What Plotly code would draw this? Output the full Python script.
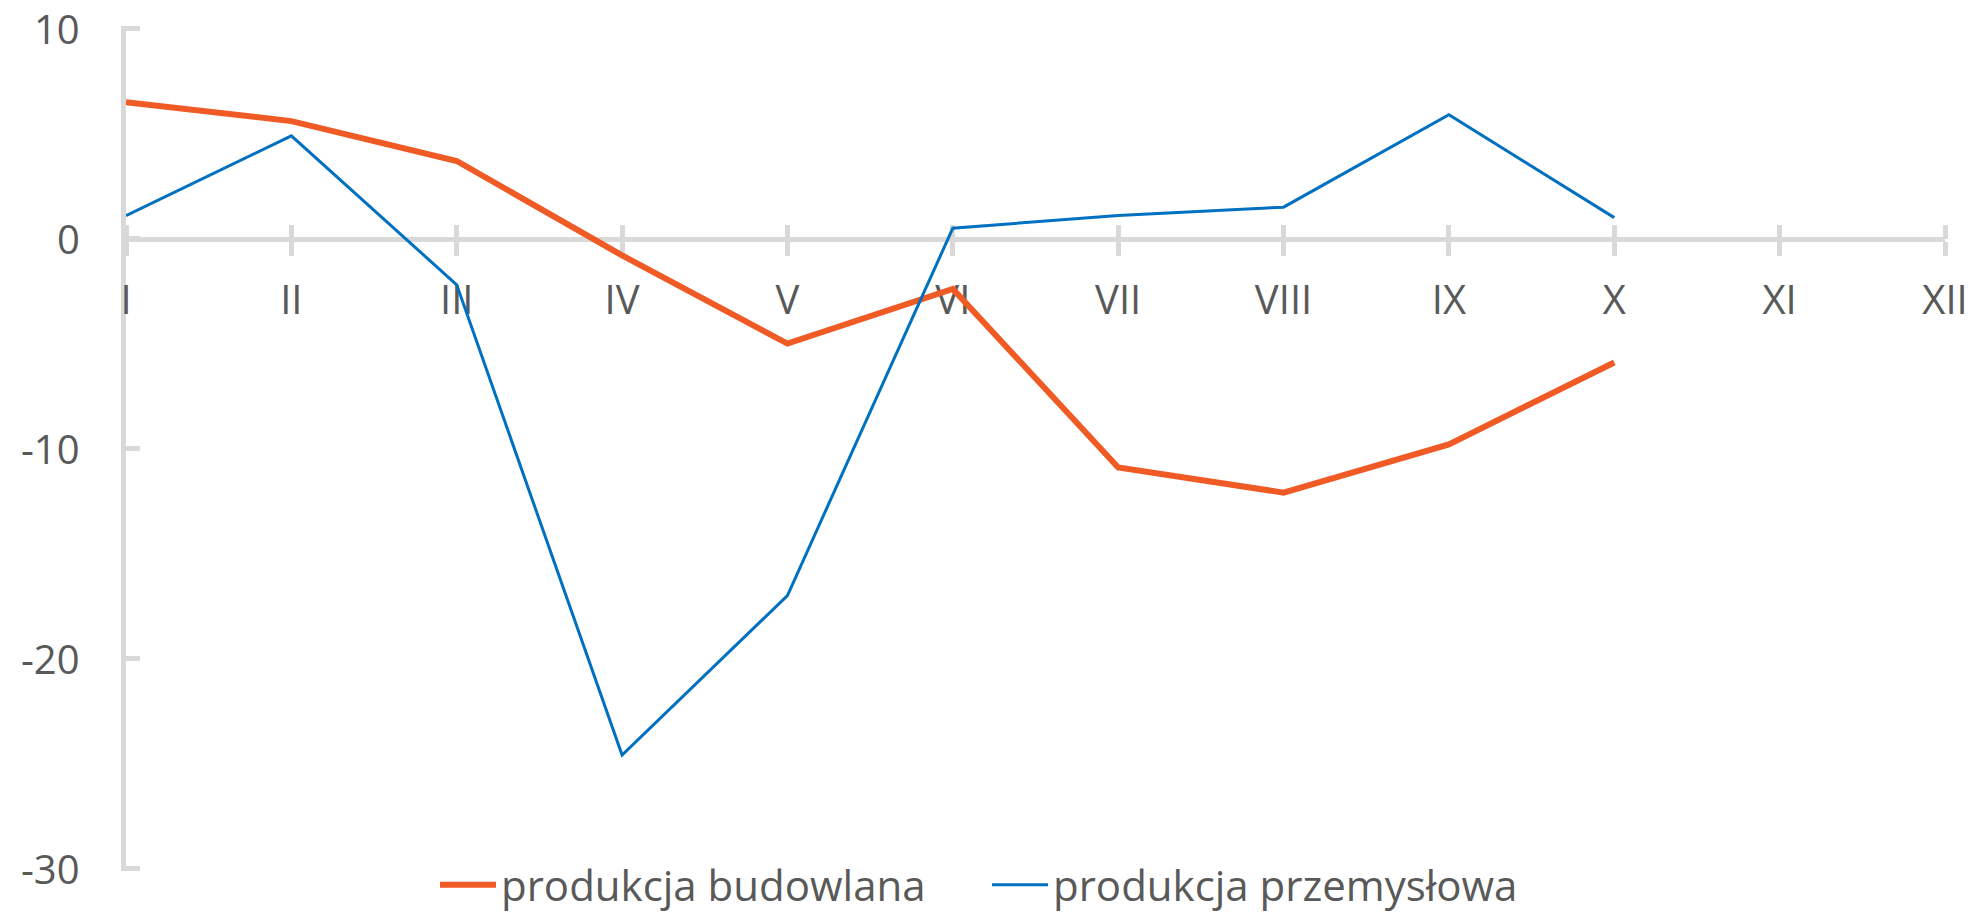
import plotly.graph_objs as go

months = ["I", "II", "III", "IV", "V", "VI", "VII", "VIII", "IX", "X", "XI", "XII"]
budowlana = [6.5, 5.6, 3.7, -0.8, -5.0, -2.4, -10.9, -12.1, -9.8, -5.9]
przemyslowa = [1.1, 4.9, -2.2, -24.6, -17.0, 0.5, 1.1, 1.5, 5.9, 1.0]
y_ticks = [-30, -20, -10, 0, 10]

GRAY = "#d9d9d9"
TEXT = "#595959"
FONT = "Open Sans"
W, H = 1974, 919
L, R = 126, 29

fig = go.Figure()
fig.add_trace(go.Scatter(
    x=list(range(len(budowlana))), y=budowlana, mode="lines",
    name="produkcja budowlana", line=dict(color="#F05A24", width=6)
))
# second series goes through the overlaid x axis (same scale), so its upper ticks get drawn
fig.add_trace(go.Scatter(
    x=list(range(len(przemyslowa))), y=przemyslowa, mode="lines", xaxis="x2",
    name="produkcja przemysłowa", line=dict(color="#0070C0", width=3)
))

# y ticks: 10 at 29 px, -30 at 877 px; small pad so the end ticks are kept
pad = 0.12
unit = (877 - 29) / (y_ticks[-1] - y_ticks[0])
y_rng = [y_ticks[0] - pad, y_ticks[-1] + pad]
y_dom = [(H - 877 - pad * unit) / H, (H - 29 + pad * unit) / H]
zero_pos = y_dom[0] + (0 - y_rng[0]) / (y_rng[1] - y_rng[0]) * (y_dom[1] - y_dom[0])
x_rng = [0, len(months) - 1]

tick_style = dict(tickwidth=5, tickcolor=GRAY, ticklen=14)

fig.update_layout(
    width=W, height=H,
    margin=dict(l=L, r=R, t=0, b=0),
    plot_bgcolor="white", paper_bgcolor="white",
    font=dict(family=FONT, size=40, color=TEXT),
    showlegend=True,
    legend=dict(
        orientation="h", x=(435 - L) / (W - L - R), xanchor="left",
        y=(H - 894) / H, yanchor="middle",
        font=dict(size=42, color=TEXT), itemwidth=56, entrywidth=481, tracegroupgap=0,
        bgcolor="rgba(0,0,0,0)"
    ),
    xaxis=dict(
        automargin=False, range=x_rng,
        tickvals=list(range(len(months))), ticktext=months,
        anchor="free", position=zero_pos, showline=True, linecolor=GRAY, linewidth=5,
        ticks="outside", **tick_style,
        showgrid=False, zeroline=False, layer="below traces",
        tickfont=dict(size=40, color=TEXT), ticklabelstandoff=10
    ),
    xaxis2=dict(
        automargin=False, range=x_rng, matches="x",
        tickvals=list(range(len(months))), overlaying="x",
        side="top", anchor="free", position=zero_pos, showline=False,
        ticks="outside", **tick_style,
        showticklabels=False, showgrid=False, zeroline=False, layer="below traces"
    ),
    yaxis=dict(
        domain=y_dom, automargin=False, range=y_rng, tickvals=y_ticks,
        showline=True, linecolor=GRAY, linewidth=5,
        ticks="inside", **tick_style, showticklabels=False,
        showgrid=False, zeroline=False, layer="below traces"
    ),
)

# y labels right-aligned next to the axis (hyphen minus as in the original)
for v in y_ticks:
    fig.add_annotation(
        x=0, xref="paper", y=v, yref="y", text=str(v), showarrow=False,
        xanchor="right", yanchor="middle", xshift=-44,
        font=dict(family=FONT, size=40, color=TEXT)
    )

fig.write_html("out.html", config={"displayModeBar": False},
               post_script="document.body.style.margin='0';")
